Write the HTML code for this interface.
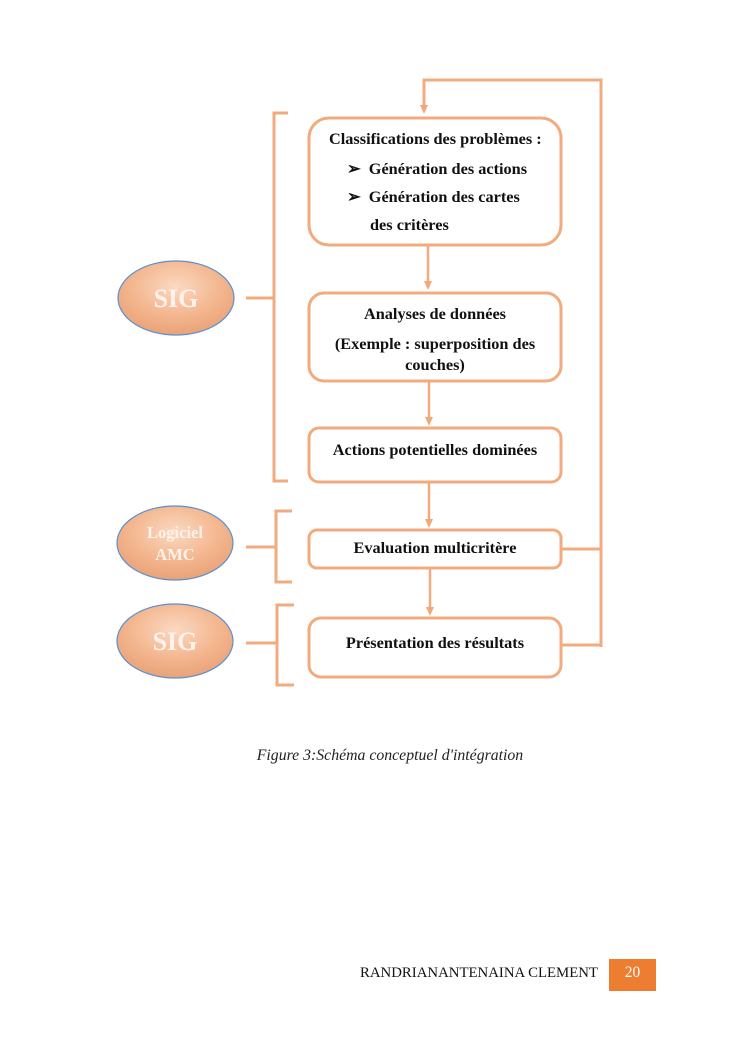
<!DOCTYPE html>
<html><head><meta charset="utf-8"><style>
body{margin:0;background:#fff;width:745px;height:1053px;overflow:hidden;position:relative;font-family:"Liberation Serif",serif}
.t{position:absolute;font-weight:bold;color:#111;font-size:16.3px;white-space:nowrap}
</style></head><body>
<svg width="745" height="1053" style="position:absolute;left:0;top:0">
<defs>
<radialGradient id="g" cx="50%" cy="35%" r="65%">
<stop offset="0" stop-color="#fbd9c2"/><stop offset="0.6" stop-color="#f3b68e"/><stop offset="1" stop-color="#e9a278"/>
</radialGradient>
</defs>
<g fill="none" stroke="#f2ab7e" stroke-width="3">
<rect x="309" y="118" width="252" height="127" rx="20"/>
<rect x="309" y="293" width="252" height="88" rx="15"/>
<rect x="309" y="428" width="252" height="54" rx="10"/>
<rect x="309" y="530" width="252" height="38" rx="8"/>
<rect x="309" y="618" width="252" height="59" rx="12"/>
<path d="M288,113 H274 V481 H288 M274,298 H246"/>
<path d="M292,511 H276 V582 H292 M276,547 H246"/>
<path d="M294,605 H277 V685 H294 M277,643 H246"/>
<path d="M561,549 H601 M561,645 H601 M601,647 V80 H424 V106"/>
</g>
<g stroke="#f2ab7e" stroke-width="2.5">
<line x1="428" y1="246" x2="428" y2="282"/>
<line x1="429" y1="382" x2="429" y2="418"/>
<line x1="429" y1="482" x2="429" y2="520"/>
<line x1="430" y1="569" x2="430" y2="608"/>
</g>
<g fill="#f2a878">
<path d="M420,105 h8 l-4,9 z"/>
<path d="M424,281 h8 l-4,9 z"/>
<path d="M425,417 h8 l-4,9 z"/>
<path d="M425,519 h8 l-4,9 z"/>
<path d="M426,607 h8 l-4,9 z"/>
</g>
<g fill="url(#g)" stroke="#5b8fd0" stroke-width="1.2">
<ellipse cx="176" cy="298" rx="58" ry="37"/>
<ellipse cx="175" cy="543" rx="58" ry="37"/>
<ellipse cx="175" cy="641" rx="58" ry="37"/>
</g>
<g fill="#fdf3ec" font-family="Liberation Serif,serif" font-weight="bold" text-anchor="middle">
<text x="176" y="307" font-size="26">SIG</text>
<text x="175" y="538" font-size="16.5">Logiciel</text>
<text x="175" y="560" font-size="16.5">AMC</text>
<text x="175" y="650" font-size="26">SIG</text>
</g>
<rect x="609" y="959" width="47" height="32" fill="#ed7d31"/>
</svg>
<div class="t" style="left:329px;top:129px">Classifications des problèmes :</div>
<div class="t" style="left:347px;top:159px">➢&nbsp; Génération des actions</div>
<div class="t" style="left:347px;top:187px">➢&nbsp; Génération des cartes</div>
<div class="t" style="left:370px;top:215px">des critères</div>
<div class="t" style="left:309px;width:252px;text-align:center;top:304px">Analyses de données</div>
<div class="t" style="left:309px;width:252px;text-align:center;top:334px">(Exemple : superposition des</div>
<div class="t" style="left:309px;width:252px;text-align:center;top:355px">couches)</div>
<div class="t" style="left:309px;width:252px;text-align:center;top:440px">Actions potentielles dominées</div>
<div class="t" style="left:309px;width:252px;text-align:center;top:538px">Evaluation multicritère</div>
<div class="t" style="left:309px;width:252px;text-align:center;top:633px">Présentation des résultats</div>
<div style="position:absolute;left:0;width:780px;text-align:center;top:747px;font-style:italic;font-size:15.8px;color:#222">Figure 3:Schéma conceptuel d'intégration</div>
<div style="position:absolute;left:360px;top:965px;font-size:14.8px;color:#111">RANDRIANANTENAINA CLEMENT</div>
<div style="position:absolute;left:609px;width:47px;top:964px;text-align:center;font-size:15.5px;color:#fff">20</div>
</body></html>
